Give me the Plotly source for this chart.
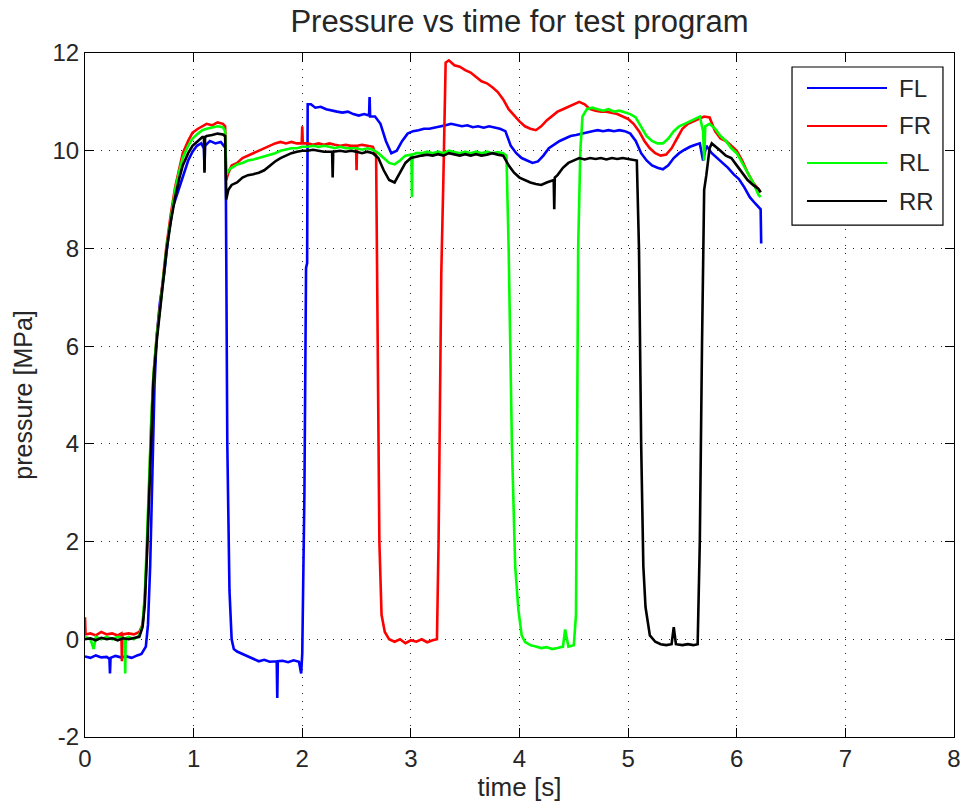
import plotly.graph_objects as go

# ---------------- data ----------------
series_names = ["FL", "FR", "RL", "RR"]
series_colors = ["#0000ff", "#ff0000", "#00ff00", "#000000"]

fl_t = [0.00, 0.05, 0.10, 0.15, 0.20, 0.225, 0.23, 0.235, 0.28, 0.33, 0.38, 0.43, 0.48, 0.52, 0.56, 0.58,
        0.60, 0.62, 0.64, 0.66, 0.69, 0.73, 0.77, 0.81, 0.86, 0.90, 0.95, 0.99, 1.03, 1.07, 1.095, 1.10,
        1.105, 1.15, 1.20, 1.25, 1.28, 1.295, 1.30, 1.31, 1.33, 1.35, 1.37, 1.40, 1.45, 1.50, 1.55, 1.60,
        1.65, 1.70, 1.765, 1.77, 1.775, 1.82, 1.87, 1.92, 1.97, 1.99, 2.00, 2.02, 2.035, 2.045, 2.05,
        2.08, 2.12, 2.17, 2.22, 2.27, 2.32, 2.37, 2.42, 2.47, 2.52, 2.57, 2.615, 2.62, 2.625, 2.67, 2.72,
        2.77, 2.82, 2.87, 2.92, 2.97, 3.02, 3.07, 3.12, 3.17, 3.22, 3.27, 3.32, 3.37, 3.42, 3.47, 3.52,
        3.57, 3.62, 3.67, 3.72, 3.77, 3.82, 3.87, 3.92, 3.97, 4.02, 4.07, 4.12, 4.17, 4.22, 4.27, 4.32,
        4.37, 4.42, 4.47, 4.52, 4.57, 4.62, 4.67, 4.72, 4.77, 4.82, 4.87, 4.92, 4.97, 5.02, 5.07, 5.12,
        5.17, 5.22, 5.27, 5.32, 5.37, 5.42, 5.47, 5.52, 5.57, 5.62, 5.66, 5.69, 5.72, 5.77, 5.82, 5.87,
        5.92, 5.97, 6.02, 6.07, 6.12, 6.17, 6.20, 6.22, 6.225]
fl_p = [-0.35, -0.38, -0.33, -0.37, -0.36, -0.40, -0.70, -0.38, -0.34, -0.37, -0.35, -0.38, -0.33, -0.30, -0.15, 0.30,
        1.50, 3.50, 5.20, 6.20, 6.90, 7.50, 8.30, 8.85, 9.20, 9.50, 9.80, 9.98, 10.10, 10.15, 10.05, 9.60,
        10.10, 10.20, 10.15, 10.18, 10.10, 10.05, 8.00, 4.00, 1.00, 0.00, -0.20, -0.25, -0.30, -0.35, -0.40, -0.45,
        -0.42, -0.46, -0.45, -1.20, -0.45, -0.44, -0.47, -0.43, -0.46, -0.70, -0.30, 3.00, 7.60, 7.70, 10.95,
        10.95, 10.88, 10.90, 10.85, 10.82, 10.80, 10.78, 10.80, 10.75, 10.72, 10.75, 10.72, 11.10, 10.70, 10.70, 10.55,
        10.20, 9.95, 10.00, 10.20, 10.35, 10.40, 10.42, 10.45, 10.45, 10.47, 10.50, 10.52, 10.55, 10.52, 10.50, 10.52,
        10.48, 10.50, 10.47, 10.50, 10.48, 10.45, 10.40, 10.10, 9.95, 9.85, 9.80, 9.75, 9.78, 9.90, 10.05, 10.12,
        10.20, 10.25, 10.30, 10.32, 10.35, 10.38, 10.40, 10.42, 10.40, 10.42, 10.40, 10.42, 10.40, 10.35, 10.20, 9.95,
        9.80, 9.70, 9.65, 9.62, 9.70, 9.85, 9.95, 10.02, 10.08, 10.12, 10.15, 9.80, 10.10, 9.95, 9.85, 9.75,
        9.65, 9.52, 9.42, 9.25, 9.05, 8.92, 8.85, 8.80, 8.10]

fr_t = [0.00, 0.005, 0.05, 0.10, 0.15, 0.20, 0.25, 0.30, 0.335, 0.34, 0.345, 0.40, 0.45, 0.50, 0.53, 0.55,
        0.57, 0.59, 0.61, 0.63, 0.66, 0.69, 0.72, 0.75, 0.79, 0.83, 0.87, 0.90, 0.95, 0.99, 1.04, 1.08,
        1.12, 1.17, 1.22, 1.27, 1.29, 1.30, 1.32, 1.35, 1.40, 1.45, 1.50, 1.55, 1.60, 1.65, 1.70, 1.75,
        1.80, 1.85, 1.90, 1.95, 1.995, 2.00, 2.005, 2.05, 2.10, 2.15, 2.20, 2.25, 2.30, 2.35, 2.40, 2.45,
        2.495, 2.50, 2.505, 2.55, 2.60, 2.65, 2.68, 2.69, 2.70, 2.71, 2.73, 2.76, 2.80, 2.85, 2.90, 2.95,
        3.00, 3.05, 3.10, 3.15, 3.20, 3.24, 3.255, 3.27, 3.28, 3.30, 3.32, 3.35, 3.40, 3.45, 3.50, 3.55,
        3.60, 3.65, 3.70, 3.75, 3.80, 3.85, 3.90, 3.95, 4.00, 4.05, 4.10, 4.15, 4.20, 4.25, 4.30, 4.35,
        4.40, 4.45, 4.50, 4.55, 4.60, 4.65, 4.70, 4.75, 4.80, 4.85, 4.90, 4.95, 5.00, 5.05, 5.10, 5.15,
        5.20, 5.25, 5.30, 5.35, 5.40, 5.45, 5.50, 5.55, 5.60, 5.65, 5.70, 5.75, 5.80, 5.85, 5.90, 5.95,
        6.00, 6.05, 6.10, 6.15, 6.20, 6.22]
fr_p = [0.45, 0.10, 0.12, 0.08, 0.15, 0.10, 0.12, 0.08, 0.12, -0.45, 0.10, 0.12, 0.10, 0.15, 0.30, 0.80,
        1.80, 3.20, 4.40, 5.40, 6.20, 6.80, 7.50, 8.05, 8.70, 9.25, 9.65, 9.95, 10.20, 10.37, 10.45, 10.50,
        10.55, 10.52, 10.58, 10.55, 10.50, 9.40, 9.55, 9.70, 9.75, 9.85, 9.90, 9.95, 10.00, 10.05, 10.10, 10.15,
        10.18, 10.15, 10.18, 10.15, 10.15, 10.50, 10.15, 10.15, 10.12, 10.15, 10.12, 10.15, 10.12, 10.10, 10.12, 10.10,
        10.10, 9.60, 10.10, 10.12, 10.10, 10.08, 9.90, 7.00, 4.00, 2.00, 0.50, 0.15, 0.00, -0.05, 0.00, -0.08,
        -0.02, -0.05, 0.00, -0.06, -0.02, 0.00, 2.00, 6.00, 7.50, 9.50, 11.80, 11.85, 11.75, 11.72, 11.65, 11.60,
        11.50, 11.42, 11.38, 11.30, 11.20, 11.05, 10.85, 10.72, 10.60, 10.50, 10.45, 10.42, 10.50, 10.62, 10.72, 10.80,
        10.85, 10.90, 10.95, 11.00, 10.95, 10.85, 10.82, 10.80, 10.80, 10.78, 10.75, 10.70, 10.65, 10.55, 10.40, 10.20,
        10.05, 9.95, 9.90, 9.92, 10.05, 10.25, 10.45, 10.55, 10.60, 10.65, 10.70, 10.68, 10.40, 10.25, 10.20, 10.10,
        10.00, 9.80, 9.55, 9.35, 9.20, 9.15]

rl_t = [0.00, 0.05, 0.08, 0.10, 0.15, 0.20, 0.25, 0.30, 0.365, 0.37, 0.375, 0.40, 0.45, 0.50, 0.53, 0.55,
        0.57, 0.59, 0.61, 0.63, 0.66, 0.69, 0.72, 0.75, 0.79, 0.83, 0.87, 0.90, 0.95, 0.99, 1.04, 1.08,
        1.12, 1.17, 1.22, 1.27, 1.29, 1.30, 1.32, 1.35, 1.40, 1.45, 1.50, 1.55, 1.60, 1.65, 1.70, 1.75,
        1.80, 1.85, 1.90, 1.95, 2.00, 2.05, 2.10, 2.15, 2.20, 2.25, 2.30, 2.35, 2.40, 2.45, 2.50, 2.55,
        2.60, 2.65, 2.70, 2.75, 2.80, 2.85, 2.90, 2.95, 3.005, 3.01, 3.015, 3.05, 3.10, 3.15, 3.20, 3.25,
        3.30, 3.35, 3.40, 3.45, 3.50, 3.55, 3.60, 3.65, 3.70, 3.75, 3.80, 3.85, 3.88, 3.90, 3.93, 3.96,
        3.99, 4.02, 4.05, 4.10, 4.15, 4.20, 4.25, 4.30, 4.35, 4.40, 4.42, 4.45, 4.50, 4.52, 4.53, 4.54,
        4.56, 4.58, 4.62, 4.67, 4.72, 4.77, 4.82, 4.87, 4.92, 4.97, 5.02, 5.07, 5.12, 5.17, 5.22, 5.27,
        5.32, 5.37, 5.42, 5.47, 5.52, 5.57, 5.62, 5.66, 5.69, 5.70, 5.71, 5.75, 5.80, 5.85, 5.90, 5.95,
        6.00, 6.05, 6.10, 6.15, 6.20, 6.22]
rl_p = [0.05, 0.00, -0.20, 0.05, 0.00, 0.05, 0.00, 0.05, 0.02, -0.70, 0.02, 0.05, 0.00, 0.08, 0.30, 0.90,
        2.00, 3.30, 4.50, 5.40, 6.20, 6.75, 7.40, 8.00, 8.60, 9.20, 9.60, 9.85, 10.10, 10.25, 10.35, 10.42,
        10.45, 10.48, 10.50, 10.48, 10.40, 9.50, 9.60, 9.65, 9.72, 9.75, 9.80, 9.82, 9.85, 9.88, 9.92, 9.95,
        10.00, 10.02, 10.05, 10.05, 10.08, 10.08, 10.10, 10.08, 10.10, 10.08, 10.05, 10.08, 10.05, 10.05, 10.05, 10.02,
        10.05, 10.02, 9.95, 9.85, 9.75, 9.72, 9.80, 9.90, 9.92, 9.05, 9.92, 9.95, 9.95, 9.98, 9.95, 9.98,
        9.95, 10.00, 9.98, 9.95, 9.98, 9.95, 9.98, 9.95, 9.98, 9.95, 9.97, 9.95, 9.90, 8.00, 4.00, 1.50,
        0.60, 0.08, -0.05, -0.12, -0.15, -0.18, -0.16, -0.20, -0.18, -0.15, 0.20, -0.15, -0.12, 0.50, 4.00, 8.00,
        10.00, 10.70, 10.85, 10.88, 10.85, 10.82, 10.85, 10.80, 10.82, 10.78, 10.75, 10.68, 10.50, 10.30, 10.20, 10.15,
        10.15, 10.25, 10.40, 10.50, 10.55, 10.60, 10.65, 10.70, 10.40, 9.80, 10.50, 10.55, 10.45, 10.30, 10.20, 10.05,
        9.95, 9.75, 9.55, 9.35, 9.10, 9.05]

rr_t = [0.00, 0.05, 0.10, 0.15, 0.20, 0.25, 0.30, 0.35, 0.40, 0.45, 0.50, 0.53, 0.55, 0.57, 0.59, 0.61,
        0.63, 0.66, 0.69, 0.72, 0.75, 0.79, 0.83, 0.87, 0.90, 0.95, 0.99, 1.04, 1.08, 1.095, 1.10, 1.105,
        1.12, 1.17, 1.22, 1.27, 1.29, 1.30, 1.32, 1.35, 1.40, 1.45, 1.50, 1.55, 1.60, 1.65, 1.70, 1.75,
        1.80, 1.85, 1.90, 1.95, 2.00, 2.05, 2.10, 2.15, 2.20, 2.275, 2.28, 2.285, 2.35, 2.40, 2.45, 2.50,
        2.55, 2.60, 2.65, 2.70, 2.75, 2.80, 2.85, 2.90, 2.95, 3.00, 3.05, 3.10, 3.15, 3.20, 3.25, 3.30,
        3.35, 3.40, 3.45, 3.50, 3.55, 3.60, 3.65, 3.70, 3.75, 3.80, 3.85, 3.90, 3.95, 4.00, 4.05, 4.10,
        4.15, 4.20, 4.25, 4.315, 4.32, 4.325, 4.35, 4.40, 4.45, 4.50, 4.55, 4.60, 4.65, 4.70, 4.75, 4.80,
        4.85, 4.90, 4.95, 5.00, 5.05, 5.08, 5.10, 5.12, 5.14, 5.16, 5.20, 5.25, 5.30, 5.35, 5.40, 5.42,
        5.44, 5.50, 5.55, 5.60, 5.64, 5.66, 5.68, 5.70, 5.72, 5.75, 5.77, 5.80, 5.85, 5.90, 5.95, 6.00,
        6.05, 6.10, 6.15, 6.20, 6.22]
rr_p = [0.00, 0.02, -0.02, 0.03, 0.00, 0.02, -0.02, 0.02, 0.00, 0.03, 0.05, 0.25, 0.70, 1.70, 3.00, 4.30,
        5.30, 6.10, 6.70, 7.40, 7.95, 8.55, 9.05, 9.45, 9.70, 9.95, 10.10, 10.20, 10.28, 10.28, 9.55, 10.28,
        10.30, 10.32, 10.35, 10.33, 10.30, 9.00, 9.20, 9.30, 9.35, 9.45, 9.50, 9.52, 9.55, 9.60, 9.70, 9.78,
        9.85, 9.90, 9.95, 9.98, 10.00, 10.00, 10.02, 10.00, 9.98, 9.98, 9.45, 9.98, 10.00, 9.98, 10.00, 9.98,
        9.95, 9.98, 9.95, 9.85, 9.60, 9.40, 9.35, 9.55, 9.75, 9.85, 9.88, 9.90, 9.92, 9.90, 9.93, 9.90,
        9.95, 9.92, 9.90, 9.93, 9.90, 9.93, 9.90, 9.92, 9.95, 9.92, 9.90, 9.70, 9.55, 9.45, 9.40, 9.35,
        9.32, 9.30, 9.35, 9.40, 8.80, 9.45, 9.50, 9.65, 9.75, 9.80, 9.85, 9.82, 9.85, 9.83, 9.85, 9.82,
        9.85, 9.83, 9.85, 9.83, 9.82, 9.80, 8.00, 4.00, 1.50, 0.66, 0.08, -0.05, -0.10, -0.12, -0.10, 0.25,
        -0.10, -0.12, -0.10, -0.12, -0.10, 2.00, 6.00, 9.20, 9.50, 10.05, 10.15, 10.10, 10.00, 9.90, 9.85, 9.70,
        9.55, 9.40, 9.30, 9.22, 9.15]

x_ticks = [0, 1, 2, 3, 4, 5, 6, 7, 8]
y_ticks = [-2, 0, 2, 4, 6, 8, 10, 12]

title_text = "Pressure vs time for test program"
x_title = "time [s]"
y_title = "pressure [MPa]"

# ---------------- figure ----------------
FONT = "Liberation Sans, Arial, sans-serif"
TXT = "#262626"
fig = go.Figure()
all_t = [fl_t, fr_t, rl_t, rr_t]
all_p = [fl_p, fr_p, rl_p, rr_p]
for name, color, t, p in zip(series_names, series_colors, all_t, all_p):
    fig.add_trace(go.Scatter(x=t, y=p, mode="lines", name=name,
                             line=dict(color=color, width=2.6), showlegend=False))

axis_common = dict(showline=True, linecolor="black", linewidth=1, mirror="ticks",
                   ticks="inside", ticklen=9, tickcolor="black", tickwidth=1,
                   showgrid=True, gridcolor="#222222", gridwidth=1, griddash="1px,7px",
                   zeroline=False, automargin=False,
                   tickfont=dict(family=FONT, size=24, color=TXT))

fig.update_xaxes(range=[0, 8], tickvals=x_ticks, ticktext=[str(v) for v in x_ticks],
                 title=dict(text=x_title, font=dict(family=FONT, size=26, color=TXT), standoff=6),
                 **axis_common)
fig.update_yaxes(range=[-2, 12], tickvals=y_ticks, ticktext=[str(v) for v in y_ticks],
                 title=dict(text=y_title, font=dict(family=FONT, size=25, color=TXT), standoff=12),
                 **axis_common)

# legend drawn as a boxed key (MATLAB style)
leg_left, leg_right, leg_top, leg_bottom = 0.8136, 0.9873, 0.9795, 0.7485
fig.add_shape(type="rect", xref="paper", yref="paper", x0=leg_left, x1=leg_right,
              y0=leg_bottom, y1=leg_top, line=dict(color="black", width=1.2), fillcolor="white", layer="above")
row_y = [0.9488, 0.8933, 0.8392, 0.7836]
for name, color, yy in zip(series_names, series_colors, row_y):
    fig.add_shape(type="line", xref="paper", yref="paper", x0=0.8308, x1=0.9229, y0=yy, y1=yy,
                  line=dict(color=color, width=2), layer="above")
    fig.add_annotation(xref="paper", yref="paper", x=0.9344, y=yy, text=name, showarrow=False,
                       xanchor="left", yanchor="middle", font=dict(family=FONT, size=24, color=TXT))

fig.update_layout(
    width=964, height=810,
    margin=dict(l=85, r=10, t=53, b=73),
    paper_bgcolor="white", plot_bgcolor="white",
    title=dict(text=title_text, x=0.5, xref="paper", y=1 - 21 / 810, yref="container",
               yanchor="middle", font=dict(family=FONT, size=31, color=TXT)),
)

fig.write_html("out.html")
